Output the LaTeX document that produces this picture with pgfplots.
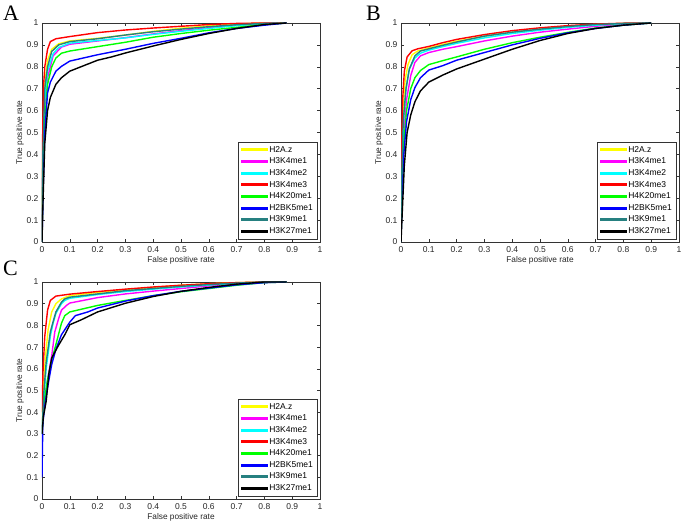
\documentclass[border=0pt]{standalone}
\usepackage{pgfplots}
\pgfplotsset{compat=1.18}
\usepackage{fontspec}
\setmainfont{Liberation Sans}
\newfontfamily\serifletter{Liberation Serif}
\definecolor{cY}{rgb}{1,1,0}
\definecolor{cM}{rgb}{1,0,1}
\definecolor{cC}{rgb}{0,1,1}
\definecolor{cR}{rgb}{1,0,0}
\definecolor{cG}{rgb}{0,1,0}
\definecolor{cB}{rgb}{0,0,1}
\definecolor{cT}{rgb}{0.15,0.5,0.5}
\definecolor{cK}{rgb}{0,0,0}
\pgfplotsset{rocax/.style={
  scale only axis, width=278pt, height=219pt,
  xmin=0, xmax=1, ymin=0, ymax=1,
  xtick={0,0.1,0.2,0.3,0.4,0.5,0.6,0.7,0.8,0.9,1},
  ytick={0,0.1,0.2,0.3,0.4,0.5,0.6,0.7,0.8,0.9,1},
  tick align=inside, major tick length=3pt,
  axis line style={black!80}, every tick/.style={black!80},
  /pgf/number format/assume math mode=true,
  tick label style={font=\fontsize{8.5}{10}\selectfont, text=black!85},
  label style={font=\fontsize{8.3}{10}\selectfont, text=black!85},
  xlabel={False positive rate}, ylabel={True positive rate},
  xticklabel style={yshift=-1pt},
  xlabel style={yshift=3pt},
  ylabel style={yshift=-4pt},
  every axis plot/.append style={line width=1.4pt},
  legend image code/.code={\fill[#1] (0pt,-0.8pt) rectangle (26pt,0.8pt);},
  legend cell align=left,
  legend style={at={(1,0)}, anchor=south east, xshift=-3pt, yshift=3pt,
    draw=black!80, fill=white, font=\fontsize{8.5}{10}\selectfont,
    row sep=1.8pt, inner xsep=3pt, inner ysep=2.5pt,
    nodes={inner xsep=1pt, inner ysep=1.2pt}},
}}
\begin{document}
\begin{tikzpicture}[x=1pt,y=1pt]
\useasboundingbox (0,0) rectangle (683,526);
% ---------------- A
\begin{axis}[rocax, at={(42pt,284pt)}, anchor=south west]
\addplot[color=cY] coordinates {(0,0)(0.003,0.45)(0.01,0.72)(0.02,0.83)(0.035,0.88)(0.06,0.905)(0.1,0.918)(0.2,0.93)(0.3,0.945)(0.4,0.962)(0.5,0.976)(0.6,0.987)(0.7,0.995)(0.8,1)(0.88,1)};
\addplot[color=cM] coordinates {(0,0)(0.003,0.35)(0.01,0.62)(0.02,0.75)(0.04,0.85)(0.07,0.89)(0.1,0.903)(0.2,0.918)(0.3,0.933)(0.4,0.95)(0.5,0.965)(0.6,0.978)(0.7,0.99)(0.8,0.998)(0.86,1)};
\addplot[color=cC] coordinates {(0,0)(0.003,0.35)(0.01,0.65)(0.02,0.78)(0.04,0.86)(0.06,0.888)(0.1,0.908)(0.2,0.92)(0.3,0.932)(0.4,0.948)(0.5,0.962)(0.6,0.975)(0.7,0.988)(0.8,0.997)(0.87,1)};
\addplot[color=cR] coordinates {(0,0)(0.002,0.45)(0.005,0.7)(0.01,0.8)(0.02,0.88)(0.03,0.915)(0.05,0.928)(0.1,0.938)(0.2,0.956)(0.3,0.968)(0.4,0.977)(0.5,0.985)(0.6,0.993)(0.7,0.998)(0.8,1)(0.88,1)};
\addplot[color=cG] coordinates {(0,0)(0.003,0.3)(0.01,0.55)(0.02,0.72)(0.035,0.8)(0.05,0.84)(0.07,0.862)(0.1,0.872)(0.2,0.892)(0.3,0.912)(0.4,0.935)(0.5,0.952)(0.6,0.967)(0.7,0.98)(0.8,0.993)(0.88,1)};
\addplot[color=cB] coordinates {(0,0)(0.004,0.25)(0.01,0.5)(0.02,0.68)(0.03,0.73)(0.05,0.78)(0.07,0.802)(0.1,0.826)(0.2,0.855)(0.3,0.88)(0.4,0.907)(0.5,0.93)(0.6,0.955)(0.7,0.975)(0.8,0.99)(0.88,1)};
\addplot[color=cT] coordinates {(0,0)(0.003,0.4)(0.01,0.7)(0.02,0.8)(0.035,0.87)(0.06,0.9)(0.1,0.915)(0.2,0.928)(0.3,0.945)(0.4,0.96)(0.5,0.972)(0.6,0.983)(0.7,0.992)(0.8,0.998)(0.85,1)};
\addplot[color=cK] coordinates {(0,0)(0.004,0.2)(0.01,0.45)(0.02,0.6)(0.03,0.66)(0.05,0.72)(0.07,0.75)(0.1,0.78)(0.15,0.805)(0.2,0.83)(0.25,0.845)(0.3,0.863)(0.4,0.895)(0.5,0.925)(0.6,0.952)(0.7,0.975)(0.8,0.993)(0.88,1)};
\legend{H2A.z,H3K4me1,H3K4me2,H3K4me3,H4K20me1,H2BK5me1,H3K9me1,H3K27me1}
\end{axis}
% ---------------- B
\begin{axis}[rocax, at={(401pt,284pt)}, anchor=south west]
\addplot[color=cY] coordinates {(0,0)(0.003,0.35)(0.008,0.6)(0.015,0.74)(0.025,0.81)(0.04,0.855)(0.06,0.872)(0.1,0.886)(0.15,0.902)(0.2,0.917)(0.3,0.94)(0.4,0.958)(0.5,0.972)(0.6,0.984)(0.7,0.993)(0.8,0.998)(0.9,1)};
\addplot[color=cM] coordinates {(0,0)(0.004,0.3)(0.01,0.5)(0.02,0.65)(0.035,0.76)(0.05,0.82)(0.07,0.85)(0.1,0.865)(0.15,0.88)(0.2,0.892)(0.3,0.918)(0.4,0.94)(0.5,0.958)(0.6,0.972)(0.7,0.985)(0.8,0.995)(0.9,1)};
\addplot[color=cC] coordinates {(0,0)(0.003,0.3)(0.009,0.55)(0.018,0.7)(0.03,0.79)(0.05,0.84)(0.07,0.862)(0.1,0.876)(0.15,0.892)(0.2,0.907)(0.3,0.932)(0.4,0.952)(0.5,0.967)(0.6,0.98)(0.7,0.99)(0.8,0.997)(0.9,1)};
\addplot[color=cR] coordinates {(0,0)(0.002,0.4)(0.006,0.65)(0.012,0.78)(0.022,0.845)(0.04,0.873)(0.06,0.882)(0.1,0.893)(0.15,0.91)(0.2,0.925)(0.3,0.947)(0.4,0.965)(0.5,0.978)(0.6,0.988)(0.7,0.995)(0.8,0.999)(0.9,1)};
\addplot[color=cG] coordinates {(0,0)(0.004,0.25)(0.01,0.45)(0.02,0.6)(0.035,0.7)(0.05,0.75)(0.07,0.783)(0.1,0.81)(0.15,0.828)(0.2,0.845)(0.3,0.88)(0.4,0.91)(0.5,0.935)(0.6,0.957)(0.7,0.977)(0.8,0.99)(0.9,1)};
\addplot[color=cB] coordinates {(0,0)(0.004,0.22)(0.01,0.4)(0.02,0.55)(0.035,0.65)(0.05,0.705)(0.07,0.75)(0.1,0.785)(0.15,0.805)(0.2,0.83)(0.3,0.865)(0.4,0.9)(0.5,0.93)(0.6,0.955)(0.7,0.975)(0.8,0.99)(0.9,1)};
\addplot[color=cT] coordinates {(0,0)(0.003,0.32)(0.008,0.55)(0.018,0.7)(0.03,0.79)(0.05,0.85)(0.07,0.872)(0.1,0.882)(0.15,0.898)(0.2,0.913)(0.3,0.94)(0.4,0.958)(0.5,0.972)(0.6,0.984)(0.7,0.993)(0.8,0.998)(0.9,1)};
\addplot[color=cK] coordinates {(0,0)(0.005,0.15)(0.012,0.35)(0.022,0.5)(0.035,0.58)(0.05,0.64)(0.07,0.69)(0.1,0.73)(0.15,0.762)(0.2,0.79)(0.3,0.835)(0.4,0.88)(0.5,0.92)(0.6,0.952)(0.7,0.975)(0.8,0.99)(0.9,1)};
\legend{H2A.z,H3K4me1,H3K4me2,H3K4me3,H4K20me1,H2BK5me1,H3K9me1,H3K27me1}
\end{axis}
% ---------------- C
\begin{axis}[rocax, height=217pt, at={(42pt,27pt)}, anchor=south west]
\addplot[color=cY] coordinates {(0,0.35)(0.005,0.5)(0.012,0.65)(0.022,0.78)(0.035,0.862)(0.05,0.9)(0.07,0.922)(0.1,0.937)(0.2,0.952)(0.3,0.965)(0.4,0.975)(0.5,0.985)(0.6,0.992)(0.7,0.997)(0.8,1)(0.88,1)};
\addplot[color=cM] coordinates {(0,0.3)(0.008,0.45)(0.02,0.55)(0.035,0.66)(0.046,0.77)(0.06,0.832)(0.07,0.87)(0.088,0.892)(0.1,0.903)(0.2,0.928)(0.3,0.945)(0.4,0.958)(0.5,0.97)(0.6,0.982)(0.7,0.992)(0.8,0.998)(0.88,1)};
\addplot[color=cC] coordinates {(0,0.3)(0.006,0.45)(0.015,0.6)(0.03,0.75)(0.04,0.81)(0.05,0.855)(0.07,0.9)(0.082,0.915)(0.1,0.925)(0.2,0.942)(0.3,0.956)(0.4,0.967)(0.5,0.977)(0.6,0.986)(0.7,0.994)(0.8,0.999)(0.88,1)};
\addplot[color=cR] coordinates {(0,0.4)(0.004,0.6)(0.01,0.75)(0.02,0.87)(0.03,0.915)(0.05,0.935)(0.1,0.944)(0.2,0.956)(0.3,0.967)(0.4,0.977)(0.5,0.985)(0.6,0.992)(0.7,0.997)(0.8,1)(0.88,1)};
\addplot[color=cG] coordinates {(0,0.3)(0.008,0.45)(0.02,0.55)(0.035,0.64)(0.05,0.712)(0.07,0.81)(0.082,0.845)(0.1,0.862)(0.15,0.877)(0.2,0.892)(0.3,0.915)(0.4,0.937)(0.5,0.955)(0.6,0.97)(0.7,0.985)(0.8,0.997)(0.88,1)};
\addplot[color=cB] coordinates {(0,0.1)(0.003,0.35)(0.012,0.45)(0.025,0.55)(0.035,0.62)(0.05,0.69)(0.07,0.757)(0.1,0.815)(0.12,0.845)(0.165,0.862)(0.2,0.88)(0.3,0.912)(0.4,0.937)(0.5,0.957)(0.6,0.972)(0.7,0.987)(0.8,0.997)(0.88,1)};
\addplot[color=cT] coordinates {(0,0.3)(0.006,0.48)(0.015,0.63)(0.03,0.77)(0.04,0.817)(0.05,0.862)(0.07,0.907)(0.082,0.922)(0.1,0.93)(0.2,0.945)(0.3,0.96)(0.4,0.97)(0.5,0.98)(0.6,0.988)(0.7,0.995)(0.8,1)(0.88,1)};
\addplot[color=cK] coordinates {(0,0.3)(0.005,0.38)(0.015,0.45)(0.025,0.58)(0.035,0.65)(0.058,0.705)(0.082,0.757)(0.1,0.803)(0.14,0.825)(0.2,0.862)(0.3,0.902)(0.4,0.933)(0.5,0.957)(0.6,0.975)(0.7,0.99)(0.8,1)(0.88,1)};
\legend{H2A.z,H3K4me1,H3K4me2,H3K4me3,H4K20me1,H2BK5me1,H3K9me1,H3K27me1}
\end{axis}
\node[anchor=base west, inner sep=0, font=\serifletter\fontsize{22}{22}\selectfont] at (3,505.3) {A};
\node[anchor=base west, inner sep=0, font=\serifletter\fontsize{22}{22}\selectfont] at (366,505.3) {B};
\node[anchor=base west, inner sep=0, font=\serifletter\fontsize{22}{22}\selectfont] at (3,250) {C};
\end{tikzpicture}
\end{document}
